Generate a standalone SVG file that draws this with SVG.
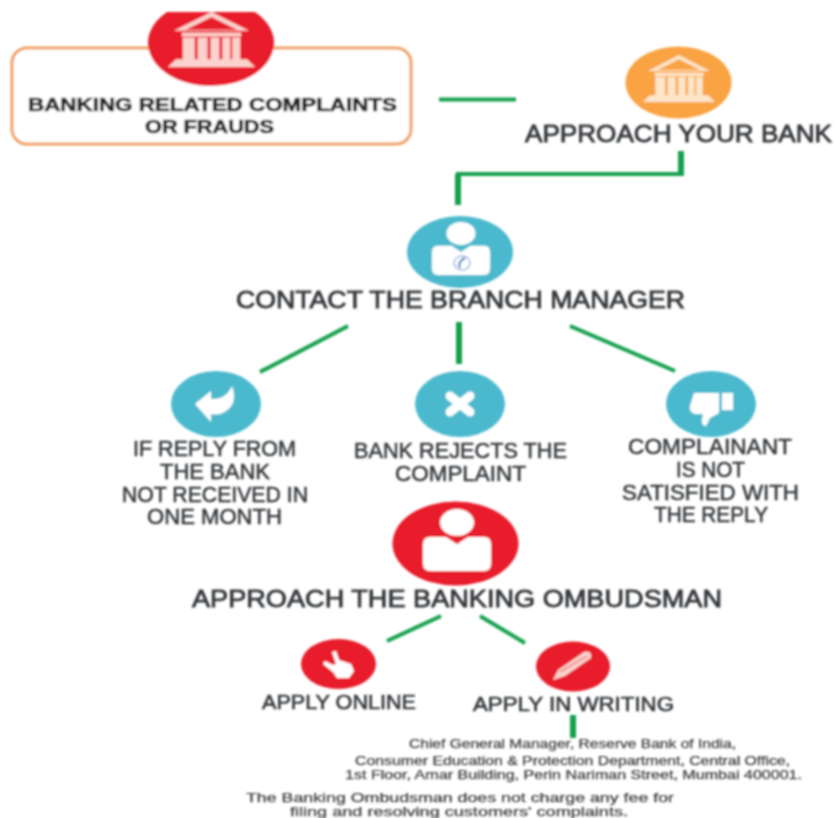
<svg xmlns="http://www.w3.org/2000/svg" width="835" height="818" viewBox="0 0 835 818">
<style>
.t{font-family:"Liberation Sans",Arial,sans-serif;fill:#3a3d40;text-anchor:start}
.b{font-weight:bold;font-size:18px;fill:#26282b;stroke:#26282b;stroke-width:.7}
.h{font-size:24px;fill:#35383b;stroke:#35383b;stroke-width:.8}
.m{font-size:21.5px;fill:#35383b;stroke:#35383b;stroke-width:.5}
.a{font-size:20px;fill:#35383b;stroke:#35383b;stroke-width:.6}
.s{font-size:12px;fill:#3c3e40;stroke:#3c3e40;stroke-width:.25}
.c{fill:none;stroke:#12a04e;stroke-width:4}
.red{fill:#e81f2b}.teal{fill:#4cb9cd}.org{fill:#f9a343}
.w{fill:#fff}
</style>
<defs>
<filter id="soft" x="-2%" y="-2%" width="104%" height="104%"><feGaussianBlur stdDeviation="0.8"/></filter>
<clipPath id="top"><rect x="0" y="12" width="835" height="806"/></clipPath>
<symbol id="bank" viewBox="-44 -28 88 56" overflow="visible" preserveAspectRatio="none">
<path d="M0-28L38-9H-38ZM0-23L-26-10H26Z" fill-rule="evenodd"/>
<rect x="-30" y="-7" width="60" height="4"/>
<path d="M-29-2h12v24h-12zM-14-2h10v24h-10zM-1-2h9v24h-9zM11-2h8v24h-8zM21-2h8v24h-8z"/>
<path d="M-36 20H36L44 28H-44Z"/>
</symbol>
<symbol id="person" viewBox="-34 -30 68 60" overflow="visible" preserveAspectRatio="none">
<ellipse cx="0" cy="-17" rx="17" ry="13"/>
<path d="M-27-3H-11L0 4 11-3H27Q34-3 34 4V23Q34 30 27 30H-27Q-34 30-34 23V4Q-34-3-27-3Z"/>
</symbol>
</defs>
<rect width="835" height="818" fill="#fff"/>
<g filter="url(#soft)">
<g id="connectors">
<path class="c" d="M439 99.500H516"/>
<path class="c" d="M681 151V174" style="stroke-width:6"/>
<path class="c" d="M684 174H456"/>
<path class="c" d="M458 174V205" style="stroke-width:6"/>
<path class="c" d="M348 326L260 372"/>
<path class="c" d="M459 322V364" style="stroke-width:6"/>
<path class="c" d="M570 326L675 371"/>
<path class="c" d="M441 616L387 641"/>
<path class="c" d="M480 616L525 643"/>
<path class="c" d="M573 715V738" style="stroke-width:6"/>
</g>
<g id="node-complaints">
<rect x="12" y="48" width="399" height="96" rx="15" fill="#fff" stroke="#f0a060" stroke-width="3"/>
<g clip-path="url(#top)">
<ellipse class="red" cx="211" cy="43" rx="63" ry="43"/>
<use href="#bank" x="168" y="12" width="87" height="55" fill="#fbd2cd"/>
</g>
<text class="t b" x="28" y="111" textLength="369" lengthAdjust="spacingAndGlyphs">BANKING RELATED COMPLAINTS</text>
<text class="t b" x="145" y="133" textLength="129" lengthAdjust="spacingAndGlyphs">OR FRAUDS</text>
</g>
<g id="node-bank">
<ellipse class="org" cx="678.500" cy="82.500" rx="53" ry="36"/>
<use href="#bank" x="643" y="55" width="72" height="47" fill="#fde5c9"/>
<text class="t h" x="525" y="142" textLength="307" lengthAdjust="spacingAndGlyphs">APPROACH YOUR BANK</text>
</g>
<g id="node-manager">
<ellipse class="teal" cx="460" cy="252" rx="53" ry="36"/>
<use href="#person" x="432" y="222" width="58" height="53" fill="#fff"/>
<ellipse cx="462" cy="263" rx="8" ry="7" fill="none" stroke="#9fb6e2" stroke-width="1.500"/>
<path d="M465 258Q457 262 460 268" fill="none" stroke="#2f7fb5" stroke-width="2"/>
<text class="t h" x="236" y="308" textLength="449" lengthAdjust="spacingAndGlyphs">CONTACT THE BRANCH MANAGER</text>
</g>
<g id="node-no-reply">
<ellipse class="teal" cx="216" cy="404" rx="45" ry="33"/>
<path class="w" d="M195 404L211 391V399Q226 400 232 386Q238 403 226 411Q219 416 211 414V422Z"/>
<text class="t m" x="133" y="456" textLength="163" lengthAdjust="spacingAndGlyphs">IF REPLY FROM</text>
<text class="t m" x="160" y="479" textLength="110" lengthAdjust="spacingAndGlyphs">THE BANK</text>
<text class="t m" x="122" y="502" textLength="186" lengthAdjust="spacingAndGlyphs">NOT RECEIVED IN</text>
<text class="t m" x="147" y="524" textLength="135" lengthAdjust="spacingAndGlyphs">ONE MONTH</text>
</g>
<g id="node-rejects">
<ellipse class="teal" cx="460" cy="404" rx="45" ry="33"/>
<path d="M450 396L470 412M470 396L450 412" fill="none" stroke="#fff" stroke-width="9" stroke-linecap="round"/>
<text class="t m" x="354" y="458" textLength="213" lengthAdjust="spacingAndGlyphs">BANK REJECTS THE</text>
<text class="t m" x="395" y="481" textLength="131" lengthAdjust="spacingAndGlyphs">COMPLAINT</text>
</g>
<g id="node-not-satisfied">
<ellipse class="teal" cx="711" cy="404" rx="45" ry="33"/>
<path class="w" d="M694 393H719V413L710 418L706 426Q701 426 702 419L703 414H695Q689 412 690 406Z"/>
<rect class="w" x="722" y="393" width="11" height="17"/>
<text class="t m" x="628" y="454" textLength="164" lengthAdjust="spacingAndGlyphs">COMPLAINANT</text>
<text class="t m" x="676" y="477" textLength="69" lengthAdjust="spacingAndGlyphs">IS NOT</text>
<text class="t m" x="622" y="500" textLength="177" lengthAdjust="spacingAndGlyphs">SATISFIED WITH</text>
<text class="t m" x="654" y="522" textLength="114" lengthAdjust="spacingAndGlyphs">THE REPLY</text>
</g>
<g id="node-ombudsman">
<ellipse class="red" cx="455.500" cy="543.500" rx="63" ry="42"/>
<use href="#person" x="423" y="509" width="68" height="62" fill="#fff"/>
<text class="t h" x="192" y="607" textLength="530" lengthAdjust="spacingAndGlyphs">APPROACH THE BANKING OMBUDSMAN</text>
</g>
<g id="node-online">
<ellipse class="red" cx="338.500" cy="664" rx="37.500" ry="25"/>
<path class="w" d="M332 652L336 651L339 660L351 664L354 671L349 678H337L333 672L323 664L325 661L333 665L336 664Z"/>
<text class="t a" x="262" y="709" textLength="154" lengthAdjust="spacingAndGlyphs">APPLY ONLINE</text>
</g>
<g id="node-writing">
<ellipse class="red" cx="573" cy="666.500" rx="37" ry="25"/>
<path d="M553 680L558 670L584 652Q592 650 591 658L565 676Z" fill="#fbd2cd"/>
<path d="M560 672L587 656" fill="none" stroke="#e81f2b" stroke-width="1"/>
<text class="t a" x="473" y="711" textLength="201" lengthAdjust="spacingAndGlyphs">APPLY IN WRITING</text>
</g>
<g id="notes">
<text class="t s" x="409" y="748" textLength="327" lengthAdjust="spacingAndGlyphs">Chief General Manager, Reserve Bank of India,</text>
<text class="t s" x="355" y="765" textLength="435" lengthAdjust="spacingAndGlyphs">Consumer Education &amp; Protection Department, Central Office,</text>
<text class="t s" x="345" y="779" textLength="457" lengthAdjust="spacingAndGlyphs">1st Floor, Amar Building, Perin Nariman Street, Mumbai 400001.</text>
<text class="t s" x="246" y="802" textLength="428" lengthAdjust="spacingAndGlyphs">The Banking Ombudsman does not charge any fee for</text>
<text class="t s" x="290" y="816" textLength="338" lengthAdjust="spacingAndGlyphs">filing and resolving customers' complaints.</text>
</g>
</g>
</svg>
